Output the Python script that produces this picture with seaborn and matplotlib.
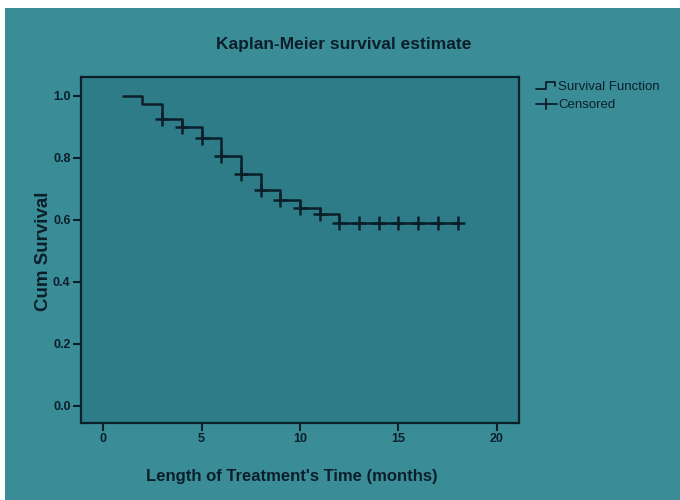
import matplotlib
matplotlib.use("Agg")
import matplotlib.pyplot as plt
from matplotlib.patches import Rectangle
from matplotlib.lines import Line2D
from matplotlib.legend_handler import HandlerBase
import seaborn as sns
import pandas as pd

# ---- data ----
step_times = [1, 2, 3, 4, 5, 6, 7, 8, 9, 10, 11, 12, 18]
step_surv = [1.0, 0.974, 0.926, 0.900, 0.865, 0.806, 0.748, 0.697, 0.665, 0.639, 0.619, 0.590, 0.590]
cens_times = [3, 4, 5, 6, 7, 8, 9, 10, 11, 12, 13, 14, 15, 16, 17, 18]
cens_surv = [0.926, 0.900, 0.865, 0.806, 0.748, 0.697, 0.665, 0.639, 0.619, 0.590,
             0.590, 0.590, 0.590, 0.590, 0.590, 0.590]
x_ticks = [0, 5, 10, 15, 20]
y_ticks = [0.0, 0.2, 0.4, 0.6, 0.8, 1.0]

title = "Kaplan-Meier survival estimate"
xlabel = "Length of Treatment's Time (months)"
ylabel = "Cum Survival"

OUTER = "#3a8c97"
INNER = "#2d7c87"
DARK = "#0b1f2b"

sns.set_style("white")
plt.rcParams['font.family'] = ['Liberation Sans', 'DejaVu Sans']

fig = plt.figure(figsize=(6.8, 5.0), dpi=100, facecolor="white")
fig.patches.append(Rectangle((5 / 680, 0), 1 - 5 / 680, (500 - 8) / 500,
                             transform=fig.transFigure, facecolor=OUTER,
                             edgecolor="none", zorder=-10))

ax = fig.add_axes([81 / 680, (500 - 423) / 500, (519 - 81) / 680, (423 - 77) / 500])
ax.set_facecolor(INNER)

step_df = pd.DataFrame({"t": step_times, "s": step_surv})
cens_df = pd.DataFrame({"t": cens_times, "s": cens_surv})

sns.lineplot(data=step_df, x="t", y="s", ax=ax, drawstyle="steps-post",
             color=DARK, linewidth=1.8, legend=False)
sns.scatterplot(data=cens_df, x="t", y="s", ax=ax, marker="+", s=90,
                color=DARK, linewidth=1.8, legend=False, zorder=5)

ax.set_xlim(-1.12, 21.12)
ax.set_ylim(-0.055, 1.061)
ax.set_xticks(x_ticks)
ax.set_xticklabels([str(v) for v in x_ticks])
ax.set_yticks(y_ticks)
ax.set_yticklabels([f"{v:.1f}" for v in y_ticks])
ax.tick_params(axis="both", direction="out", length=6, width=1.5, color=DARK,
               labelcolor=DARK, labelsize=9, pad=1.5, left=True, bottom=True)
for lbl in ax.get_xticklabels() + ax.get_yticklabels():
    lbl.set_fontweight("bold")
for sp in ax.spines.values():
    sp.set_visible(True)
    sp.set_color(DARK)
    sp.set_linewidth(1.6)

ax.set_xlabel("")
ax.set_ylabel("")
fig.text(292 / 680, (500 - 477) / 500, xlabel, ha="center", va="center",
         fontsize=12, fontweight="bold", color=DARK)
fig.text(43 / 680, (500 - 251) / 500, ylabel, ha="center", va="center",
         rotation=90, fontsize=13.5, fontweight="bold", color=DARK)
fig.text(344 / 680, (500 - 45) / 500, title, ha="center", va="center",
         fontsize=12.5, fontweight="bold", color=DARK)


class StepHandler(HandlerBase):
    def create_artists(self, legend, orig_handle, xdescent, ydescent, width,
                       height, fontsize, trans):
        x0 = -xdescent
        y0 = -ydescent + height * 0.15
        y1 = -ydescent + height * 0.85
        xs = [x0, x0 + width * 0.45, x0 + width * 0.45, x0 + width * 0.9, x0 + width * 0.9]
        ys = [y0, y0, y1, y1, y1 - height * 0.35]
        ln = Line2D(xs, ys, color=DARK, linewidth=1.3, transform=trans)
        return [ln]


class CrossHandler(HandlerBase):
    def create_artists(self, legend, orig_handle, xdescent, ydescent, width,
                       height, fontsize, trans):
        x0 = -xdescent
        ym = -ydescent + height * 0.5
        h = Line2D([x0, x0 + width], [ym, ym], color=DARK, linewidth=1.3, transform=trans)
        v = Line2D([x0 + width * 0.45, x0 + width * 0.45],
                   [ym - height * 0.55, ym + height * 0.55],
                   color=DARK, linewidth=1.3, transform=trans)
        return [h, v]


h1 = Line2D([], [], color=DARK)
h2 = Line2D([], [], color=DARK, marker="+")
leg = fig.legend([h1, h2], ["Survival Function", "Censored"],
                 handler_map={h1: StepHandler(), h2: CrossHandler()},
                 loc="upper left", bbox_to_anchor=(536 / 680, (500 - 81) / 500),
                 frameon=False, fontsize=9.5, handlelength=1.6, handletextpad=0.1,
                 labelspacing=0.45, borderaxespad=0, borderpad=0)
for t in leg.get_texts():
    t.set_color(DARK)

fig.savefig("out.png", dpi=100, facecolor=fig.get_facecolor())
